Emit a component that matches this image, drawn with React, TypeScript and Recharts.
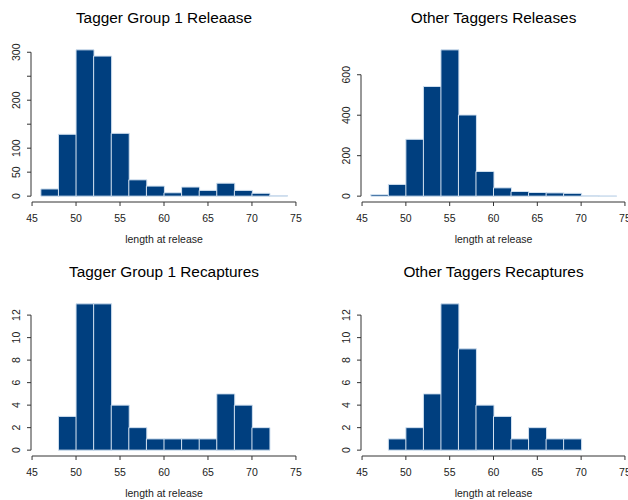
import React from "react";
import { BarChart, Bar, XAxis, YAxis, ReferenceLine } from "recharts";

// histogram bins (width 2) and counts
const bins = ["46-48", "48-50", "50-52", "52-54", "54-56", "56-58", "58-60", "60-62", "62-64", "64-66", "66-68", "68-70", "70-72", "72-74"];
const binMids = [47, 49, 51, 53, 55, 57, 59, 61, 63, 65, 67, 69, 71, 73];
const BIN_LO = 46;
const BIN_HI = 74;

const groupReleases = [15, 129, 305, 292, 131, 34, 21, 7, 19, 12, 27, 12, 6, 1];
const otherReleases = [8, 58, 281, 542, 723, 401, 122, 41, 23, 18, 16, 14, 3, 1];
const groupRecaptures = [0, 3, 13, 13, 4, 2, 1, 1, 1, 1, 5, 4, 2, 0];
const otherRecaptures = [0, 1, 2, 5, 13, 9, 4, 3, 1, 2, 1, 1, 0, 0];

const xTicks = [45, 50, 55, 60, 65, 70, 75];
const groupReleaseTicks = [0, 50, 100, 150, 200, 250, 300];
const groupReleaseHidden = [150, 250]; // R drops these labels (overlap)
const otherReleaseTicks = [0, 200, 400, 600];
const recaptureTicks = [0, 2, 4, 6, 8, 10, 12];

const FONT = "'Liberation Sans', Arial, Helvetica, sans-serif";
const W = 314;
const H = 250;
const TOP = 44;
const PLOT_H = 158;

function YTick(props: any) {
  const { x, y, payload, hidden } = props;
  if (hidden && hidden.includes(payload.value)) return null;
  return (
    <text
      x={x}
      y={y}
      transform={`rotate(-90, ${x}, ${y})`}
      textAnchor="middle"
      fontSize={10.5}
      fontFamily={FONT}
      fill="#222"
    >
      {payload.value}
    </text>
  );
}

interface HistProps {
  title: string;
  counts: number[];
  yTicks: number[];
  hidden?: number[];
  left: number;
  top: number;
  axisW: number;
  right: number;
}

function Hist({ title, counts, yTicks, hidden = [], left, top, axisW, right }: HistProps) {
  const data = bins.map((bin, i) => ({ bin, mid: binMids[i], count: counts[i] }));
  const max = Math.max(...counts);
  const ext = 0.04 * (BIN_HI - BIN_LO);
  const xDomain = [BIN_LO - ext, BIN_HI + ext];
  const yDomain = [-0.04 * max, 1.04 * max];
  const plotW = W - axisW - right;
  const pad = (ext * plotW) / (xDomain[1] - xDomain[0]);
  const cx = left + axisW + plotW / 2;

  return (
    <>
      <div
        style={{
          position: "absolute",
          left: cx - 150,
          top: top + 9.7,
          width: 300,
          textAlign: "center",
          fontSize: 15.4,
          lineHeight: "15.4px",
          fontFamily: FONT,
          color: "#000",
          whiteSpace: "nowrap",
        }}
      >
        {title}
      </div>
      <div
        style={{
          position: "absolute",
          left: cx - 100,
          top: top + 234.1,
          width: 200,
          textAlign: "center",
          fontSize: 10.5,
          lineHeight: "10.5px",
          fontFamily: FONT,
          color: "#222",
          whiteSpace: "nowrap",
        }}
      >
        length at release
      </div>
      <div style={{ position: "absolute", left, top }}>
        <BarChart
          width={W}
          height={H}
          data={data}
          margin={{ top: TOP, right, bottom: H - TOP - PLOT_H - 30, left: 0 }}
          barCategoryGap={0}
          barGap={0}
        >
          <XAxis xAxisId="cat" dataKey="bin" type="category" hide height={0} padding={{ left: pad, right: pad }} />
          <XAxis
            xAxisId="num"
            dataKey="mid"
            type="number"
            domain={xDomain}
            ticks={xTicks}
            allowDataOverflow
            interval={0}
            height={30}
            axisLine={false}
            tickLine={{ stroke: "#333" }}
            tickSize={4}
            tickMargin={9}
            tick={{ fill: "#222", fontSize: 10.5, fontFamily: FONT }}
          />
          <YAxis
            type="number"
            domain={yDomain}
            ticks={yTicks}
            allowDataOverflow
            interval={0}
            width={axisW}
            axisLine={false}
            tickLine={{ stroke: "#333" }}
            tickSize={4}
            tickMargin={7}
            tick={(p: any) => <YTick {...p} hidden={hidden} />}
          />
          <ReferenceLine
            xAxisId="num"
            ifOverflow="visible"
            stroke="#333"
            segment={[
              { x: xTicks[0], y: yDomain[0] },
              { x: xTicks[xTicks.length - 1], y: yDomain[0] },
            ]}
          />
          <ReferenceLine
            xAxisId="num"
            ifOverflow="visible"
            stroke="#333"
            segment={[
              { x: xDomain[0], y: yTicks[0] },
              { x: xDomain[0], y: yTicks[yTicks.length - 1] },
            ]}
          />
          <Bar
            xAxisId="cat"
            dataKey="count"
            fill="#003f7f"
            stroke="#d2e1f0"
            strokeWidth={1}
            isAnimationActive={false}
          />
        </BarChart>
      </div>
    </>
  );
}

export default function App() {
  return (
    <div
      style={{
        position: "absolute",
        left: 0,
        top: 0,
        width: 628,
        height: 500,
        background: "#fff",
        overflow: "hidden",
      }}
    >
      <Hist title="Tagger Group 1 Releaase" counts={groupReleases} yTicks={groupReleaseTicks} hidden={groupReleaseHidden} left={0} top={0} axisW={31} right={17} />
      <Hist title="Other Taggers Releases" counts={otherReleases} yTicks={otherReleaseTicks} left={314} top={0} axisW={47} right={2} />
      <Hist title="Tagger Group 1 Recaptures" counts={groupRecaptures} yTicks={recaptureTicks} left={0} top={254} axisW={31} right={17} />
      <Hist title="Other Taggers Recaptures" counts={otherRecaptures} yTicks={recaptureTicks} left={314} top={254} axisW={47} right={2} />
    </div>
  );
}
